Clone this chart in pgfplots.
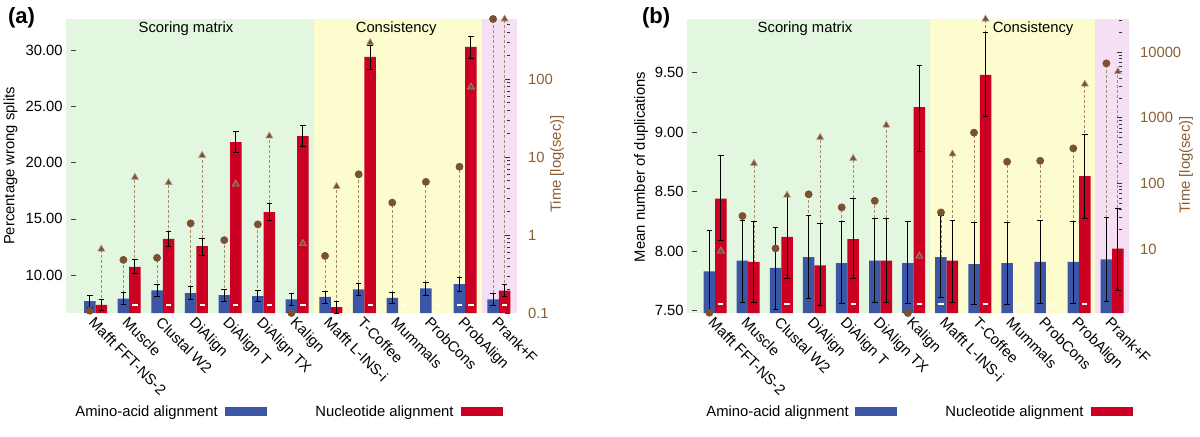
\documentclass[border=0pt]{standalone}
\usepackage{fontspec}
\setmainfont{Liberation Sans}
\usepackage{pgfplots}
\usepackage{pgfplotstable}
\pgfplotsset{compat=1.18}

\definecolor{aablue}{HTML}{3A56A5}
\definecolor{ntred}{HTML}{CC0022}
\definecolor{bggreen}{HTML}{E2F6E0}
\definecolor{bgyellow}{HTML}{FDFCCE}
\definecolor{bgpink}{HTML}{F5DFF5}
\definecolor{timebrown}{HTML}{7A5230}
\definecolor{dashbrown}{HTML}{A8896A}
\definecolor{labbrown}{HTML}{8B5E34}

% ---- panel (a): percentage wrong splits ----
\pgfplotstableread{
x y ep em
0 7.69 0.51 0.56
1 7.90 0.53 0.48
2 8.64 0.56 0.56
3 8.40 0.56 0.59
4 8.22 0.54 0.53
5 8.13 0.54 0.50
6 7.84 0.53 0.50
7 8.07 0.51 0.58
8 8.73 0.53 0.51
9 7.98 0.51 0.49
10 8.82 0.56 0.60
11 9.20 0.56 0.62
12 7.84 0.53 0.53
}\aaA
\pgfplotstableread{
x y ep em
0 7.36 0.48 0.55
1 10.74 0.62 0.59
2 13.22 0.65 0.71
3 12.57 0.72 0.79
4 21.81 0.95 0.91
5 15.60 0.77 0.72
6 22.34 0.92 0.95
7 7.16 0.53 0.55
8 29.39 0.97 1.09
11 30.28 0.92 1.02
12 8.61 0.56 0.54
}\ntA
\pgfplotstableread{
x t
0 0.107
1 0.48
2 0.51
3 1.41
4 0.86
5 1.37
6 0.10
7 0.54
8 6.0
9 2.6
10 4.8
11 7.5
12 588
}\aaTimeA
\pgfplotstableread{
x t
0 0.66
1 5.5
2 4.7
3 10.5
4 4.5
5 18.6
6 0.78
7 4.2
8 294
11 79
12 588
}\ntTimeA

% ---- panel (b): mean number of duplications ----
\pgfplotstableread{
x y ep em
0 7.83 0.34 0.35
1 7.92 0.34 0.35
2 7.86 0.34 0.35
3 7.95 0.35 0.35
4 7.90 0.35 0.34
5 7.92 0.35 0.35
6 7.90 0.35 0.34
7 7.95 0.35 0.34
8 7.89 0.35 0.34
9 7.90 0.34 0.35
10 7.91 0.35 0.35
11 7.91 0.34 0.35
12 7.93 0.35 0.35
}\aaB
\pgfplotstableread{
x y ep em
0 8.44 0.36 0.35
1 7.91 0.34 0.34
2 8.12 0.35 0.35
3 7.88 0.35 0.34
4 8.10 0.34 0.33
5 7.92 0.35 0.35
6 9.21 0.35 0.37
7 7.92 0.34 0.35
8 9.48 0.36 0.35
11 8.63 0.35 0.36
12 8.02 0.34 0.35
}\ntB
\pgfplotstableread{
x t
0 1.07
1 31.8
2 10.2
3 68
4 43
5 54
6 1.06
7 36
8 590
9 213
10 220
11 340
12 6700
}\aaTimeB
\pgfplotstableread{
x t
0 9.3
1 201
2 66
3 500
4 240
5 770
6 7.8
7 280
8 31700
11 3240
12 5000
}\ntTimeB

% white dashes near the bottom of the bars
\pgfplotstableread{
x t
11 0.1285
}\wdAaA
\pgfplotstableread{
x t
1 0.1285
2 0.1285
3 0.1285
4 0.1285
5 0.1285
6 0.1285
8 0.1285
9 0.1285
10 0.1285
11 0.1285
12 0.1285
}\wdNtA
\pgfplotstableread{
x t
7 1.43
}\wdAaB
\pgfplotstableread{
x t
0 1.43
2 1.43
4 1.43
6 1.43
8 1.43
9 1.43
10 1.43
11 1.43
}\wdNtB

\pgfplotsset{
  myBase/.style={scale only axis, height=147pt,
    /pgf/number format/assume math mode=true},
  myBars/.style={ybar=0pt, bar width=5.75pt,
    axis line style={draw=none},
    xtick={0,...,12},
    xticklabels={Mafft FFT-NS-2,Muscle,Clustal W2,DiAlign,DiAlign T,DiAlign TX,Kalign,Mafft L-INS-i,T-Coffee,Mummals,ProbCons,ProbAlign,Prank+F},
    xticklabel style={rotate=-45, anchor=north west, inner sep=1pt},
    x tick style={draw=none},
    ytick pos=left, tick align=inside, major tick length=2.5pt,
    y tick style={xshift=2.5pt, black!75},
    yticklabel style={inner sep=1.5pt, /pgf/number format/fixed,
      /pgf/number format/fixed zerofill, /pgf/number format/precision=2}},
  myErr/.style={draw=none, error bars/y dir=both, error bars/y explicit,
    error bars/error bar style={black, line width=0.5pt},
    error bars/error mark options={rotate=90, black, mark size=1.4pt, line width=0.5pt}},
  myTime/.style={clip=false, axis line style={draw=none}, xtick=\empty,
    ytick pos=right, yticklabel pos=right, tick align=inside,
    major tick length=2.5pt, minor tick length=1.5pt,
    y tick style={xshift=-3.5pt, black!80}, yticklabel style={text=labbrown, xshift=2pt}},
  myDash/.style={ycomb, dashbrown, line width=0.45pt, dash pattern=on 1.5pt off 1pt},
  myWhite/.style={only marks, mark=-, mark size=1.3pt, mark options={white, line width=1pt}},
}

\begin{document}
\begin{tikzpicture}[font=\fontsize{7.4}{9}\selectfont]
\path[use as bounding box] (0,0) rectangle (600pt,-218pt);

% ================= panel (a) =================
\begin{axis}[myBase, at={(33pt,-156.5pt)}, anchor=south west, width=225.5pt,
  xmin=-0.88, xmax=12.54, ymode=log, ymin=0.1, ymax=588, hide axis, log origin y=infty]
  \fill[bggreen] (rel axis cs:0,0) rectangle (rel axis cs:0.55,1);
  \fill[bgyellow] (rel axis cs:0.55,0) rectangle (rel axis cs:0.922,1);
  \fill[bgpink] (rel axis cs:0.922,0) rectangle (rel axis cs:1,1);
  \node at (rel axis cs:0.266,0.966) {Scoring matrix};
  \node at (rel axis cs:0.732,0.966) {Consistency};
  \addplot[myDash, xshift=-2.875pt] table[x=x, y=t] {\aaTimeA};
  \addplot[myDash, xshift=2.875pt] table[x=x, y=t] {\ntTimeA};
\end{axis}
\begin{axis}[myBase, myBars, at={(33pt,-156.5pt)}, anchor=south west, width=225.5pt,
  xmin=-0.88, xmax=12.54, ymin=6.63, ymax=32.75, ytick={10,15,20,25,30}]
  \addplot[fill=aablue, myErr] table[x=x, y=y, y error plus=ep, y error minus=em] {\aaA};
  \addplot[fill=ntred, myErr] table[x=x, y=y, y error plus=ep, y error minus=em] {\ntA};
\end{axis}
\begin{axis}[myBase, myTime, ymode=log, at={(33pt,-156.5pt)}, anchor=south west, width=225.5pt,
  xmin=-0.88, xmax=12.54, ymin=0.1, ymax=588,
  ytick={0.1,1,10,100}, yticklabels={0.1,1,10,100},
  minor ytick={0.2,0.3,0.4,0.5,0.6,0.7,0.8,0.9,2,3,4,5,6,7,8,9,20,30,40,50,60,70,80,90,200,300,400,500}]
  \addplot[myWhite, xshift=-2.875pt] table[x=x, y=t] {\wdAaA};
  \addplot[myWhite, xshift=2.875pt] table[x=x, y=t] {\wdNtA};
  \addplot[only marks, mark=*, mark size=1.75pt, timebrown, xshift=-2.875pt] table[x=x, y=t] {\aaTimeA};
  \addplot[only marks, mark=triangle*, mark size=2pt, mark options={fill=timebrown, draw=timebrown!60!white, line width=0.3pt}, xshift=2.875pt] table[x=x, y=t] {\ntTimeA};
\end{axis}

% ================= panel (b) =================
\begin{axis}[myBase, at={(343.5pt,-156.5pt)}, anchor=south west, width=221pt,
  xmin=-0.85, xmax=12.51, ymode=log, ymin=1.06, ymax=31700, hide axis, log origin y=infty]
  \fill[bggreen] (rel axis cs:0,0) rectangle (rel axis cs:0.55,1);
  \fill[bgyellow] (rel axis cs:0.55,0) rectangle (rel axis cs:0.923,1);
  \fill[bgpink] (rel axis cs:0.923,0) rectangle (rel axis cs:1,1);
  \node at (rel axis cs:0.267,0.966) {Scoring matrix};
  \node at (rel axis cs:0.783,0.966) {Consistency};
  \addplot[myDash, xshift=-2.875pt] table[x=x, y=t] {\aaTimeB};
  \addplot[myDash, xshift=2.875pt] table[x=x, y=t] {\ntTimeB};
\end{axis}
\begin{axis}[myBase, myBars, at={(343.5pt,-156.5pt)}, anchor=south west, width=221pt,
  xmin=-0.85, xmax=12.51, ymin=7.48, ymax=9.95, ytick={7.5,8,8.5,9,9.5}]
  \addplot[fill=aablue, myErr] table[x=x, y=y, y error plus=ep, y error minus=em] {\aaB};
  \addplot[fill=ntred, myErr] table[x=x, y=y, y error plus=ep, y error minus=em] {\ntB};
\end{axis}
\begin{axis}[myBase, myTime, ymode=log, at={(343.5pt,-156.5pt)}, anchor=south west, width=221pt,
  xmin=-0.85, xmax=12.51, ymin=1.06, ymax=31700,
  ytick={10,100,1000,10000}, yticklabels={10,100,1000,10000},
  minor ytick={2,3,4,5,6,7,8,9,20,30,40,50,60,70,80,90,200,300,400,500,600,700,800,900,2000,3000,4000,5000,6000,7000,8000,9000,20000,30000}]
  \addplot[myWhite, xshift=-2.875pt] table[x=x, y=t] {\wdAaB};
  \addplot[myWhite, xshift=2.875pt] table[x=x, y=t] {\wdNtB};
  \addplot[only marks, mark=*, mark size=1.75pt, timebrown, xshift=-2.875pt] table[x=x, y=t] {\aaTimeB};
  \addplot[only marks, mark=triangle*, mark size=2pt, mark options={fill=timebrown, draw=timebrown!60!white, line width=0.3pt}, xshift=2.875pt] table[x=x, y=t] {\ntTimeB};
\end{axis}

% labels, panel letters, legends
\node[anchor=base west, font=\fontsize{11}{12}\selectfont\bfseries] at (0.5pt,-11.5pt) {(a)};
\node[anchor=base west, font=\fontsize{11}{12}\selectfont\bfseries] at (317.5pt,-11.5pt) {(b)};
\node[rotate=90] at (5.3pt,-83pt) {Percentage wrong splits};
\node[rotate=90, text=labbrown] at (278.5pt,-82pt) {Time [log(sec)]};
\node[rotate=90] at (320.5pt,-83.5pt) {Mean number of duplications};
\node[rotate=90, text=labbrown] at (593pt,-82.5pt) {Time [log(sec)]};

\node[anchor=base west, inner sep=0pt] at (37.5pt,-208pt) {Amino-acid alignment};
\fill[aablue] (112.5pt,-203.7pt) rectangle (133.5pt,-208pt);
\node[anchor=base west, inner sep=0pt] at (157.5pt,-208pt) {Nucleotide alignment};
\fill[ntred] (230.5pt,-203.7pt) rectangle (251.5pt,-208pt);

\node[anchor=base west, inner sep=0pt] at (353pt,-208pt) {Amino-acid alignment};
\fill[aablue] (427.5pt,-203.7pt) rectangle (448.5pt,-208pt);
\node[anchor=base west, inner sep=0pt] at (472.5pt,-208pt) {Nucleotide alignment};
\fill[ntred] (545.5pt,-203.7pt) rectangle (566.5pt,-208pt);
\end{tikzpicture}
\end{document}
